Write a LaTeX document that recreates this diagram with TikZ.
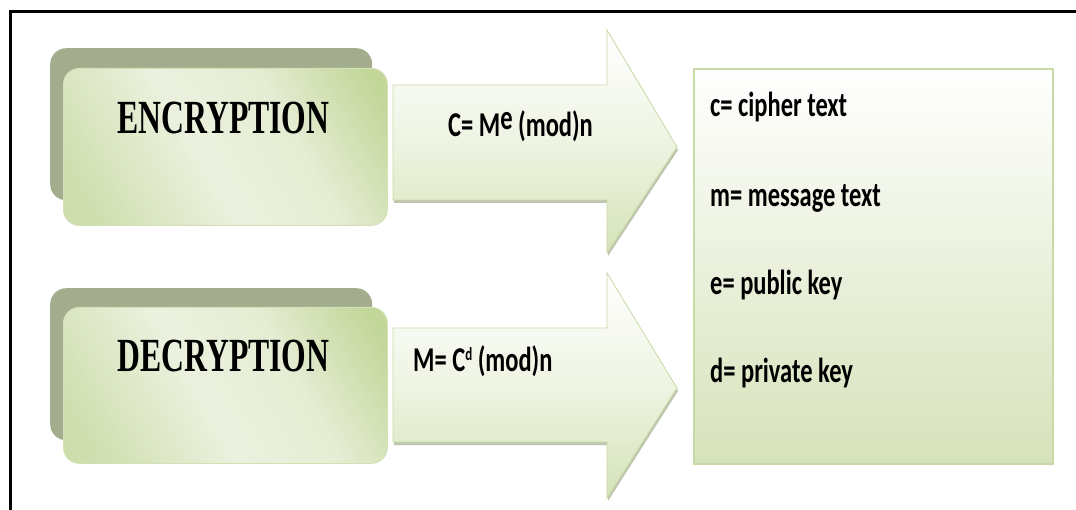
\documentclass[tikz,border=0pt]{standalone}
\usepackage{fontspec}
\setmainfont{Carlito}
\newfontfamily\serifbold{Liberation Serif}
\usetikzlibrary{positioning}
\definecolor{shadowgreen}{HTML}{A3AD8D}
\definecolor{boxedge}{HTML}{C4D79B}
\definecolor{boxlight}{HTML}{EBF1DE}
\definecolor{frontline}{HTML}{D3E1B6}
\definecolor{arrowbot}{HTML}{D5E3B8}
\definecolor{arrowedge}{HTML}{C8DAA6}
\definecolor{legendbot}{HTML}{D6E2BA}
\pgfdeclarehorizontalshading{frontshade}{100bp}{color(0bp)=(boxedge); color(22bp)=(boxedge!70!boxlight); color(45bp)=(boxlight); color(62bp)=(boxlight!85!boxedge); color(80bp)=(boxedge); color(100bp)=(boxedge)}
\tikzset{
  backbox/.style={fill=shadowgreen, rounded corners=16pt, inner sep=0pt, anchor=north west},
  frontbox/.style={draw=frontline, line width=0.8pt, shading=frontshade, shading angle=30, rounded corners=16pt, inner sep=0pt, anchor=north west},
  titletext/.style={inner sep=0pt, font=\serifbold\bfseries\fontsize{31.7}{34}\selectfont},
  formtext/.style={inner sep=0pt, anchor=base west, font=\bfseries\fontsize{24.5}{28}\selectfont},
  arrowshape/.style={draw=arrowedge, line width=0.8pt, top color=white, bottom color=arrowbot, middle color=white!60!arrowbot},
  arrowshadow/.style={fill=shadowgreen!70},
  legendbox/.style={draw=arrowedge, line width=1.6pt, top color=white, bottom color=legendbot, inner sep=0pt, anchor=north west},
}
\newcommand{\tall}[2][1.42]{\scalebox{1}[#1]{#2}}
\begin{document}
\begin{tikzpicture}[x=1pt,y=-1pt]
\useasboundingbox (0,0) rectangle (1076,510);
\fill[white] (0,0) rectangle (1076,510);
\draw[line width=3pt] (10,510) -- (10,11.5) -- (1076,11.5);

% encryption box
\node (encback) [backbox, minimum width=322pt, minimum height=152pt] at (50,48) {};
\node (encfront) [frontbox, minimum width=324pt, minimum height=157pt] at (63,68) {};
\node (enctext) [titletext] at (223.5,117.5) {\tall[1.5]{ENCRYPTION}};

% decryption box
\node (decback) [backbox, minimum width=322pt, minimum height=152pt] at (50,288) {};
\node (decfront) [frontbox, minimum width=324pt, minimum height=156pt] at (63,307) {};
\node (dectext) [titletext] at (223.5,356) {\tall[1.5]{DECRYPTION}};

% encryption arrow
\fill[arrowshadow] (394,88) -- (608,88) -- (608,33) -- (678,150) -- (608,256) -- (608,203) -- (394,203) -- cycle;
\path[arrowshape] (393,85) -- (607,85) -- (607,30) -- (677,147) -- (607,253) -- (607,200) -- (393,200) -- cycle;
\node (encform) [formtext] at (448,137) {\tall{C= M\raisebox{5pt}{e} (mod)n}};

% decryption arrow
\fill[arrowshadow] (394,331) -- (608,331) -- (608,276) -- (678,391) -- (608,501) -- (608,445) -- (394,445) -- cycle;
\path[arrowshape] (393,328) -- (607,328) -- (607,273) -- (677,388) -- (607,498) -- (607,442) -- (393,442) -- cycle;
\node (decform) [formtext] at (413,372) {\tall{M= C\raisebox{8pt}{\fontsize{13}{13}\selectfont d} (mod)n}};

% legend box
\node (legend) [legendbox, minimum width=359pt, minimum height=395pt] at (693,68) {};
\node (lc) [formtext] at (710,117) {\tall{c= cipher text}};
\node (lm) [formtext] at (710,207) {\tall{m= message text}};
\node (le) [formtext] at (710,295) {\tall{e= public key}};
\node (ld) [formtext] at (710,383) {\tall{d= private key}};
\end{tikzpicture}
\end{document}
